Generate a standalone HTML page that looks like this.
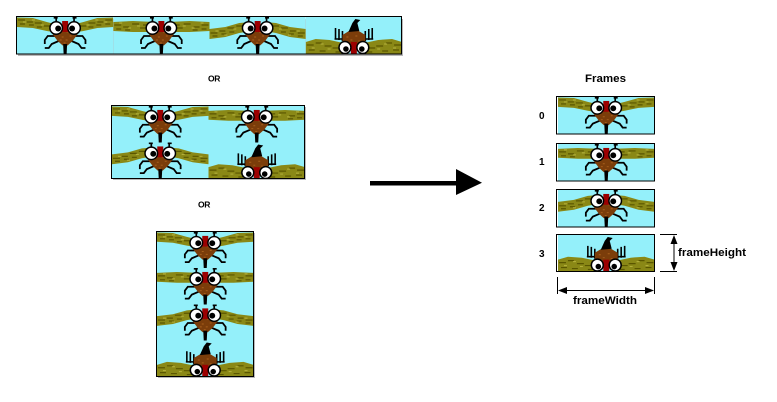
<!DOCTYPE html>
<html>
<head>
<meta charset="utf-8">
<style>
html,body{margin:0;padding:0;background:#fff;}
svg{display:block;}
text{font-family:"Liberation Sans",Arial,sans-serif;font-weight:bold;fill:#000;}
</style>
</head>
<body>
<svg width="777" height="402" viewBox="0 0 777 402" xmlns="http://www.w3.org/2000/svg">
<defs>
  <g id="head">
    <!-- antennae -->
    <path d="M37,0.8h4M39.5,0.5v6M56,0.8h4M57.5,0.5v6" stroke="#000" stroke-width="1.7" fill="none"/>
    <!-- legs -->
    <path d="M40,19H31L28,23V27M42,24L35,27L32,31H28M57,19H66L69,23V27M55,24L62,27L65,31H69" stroke="#000" stroke-width="1.8" fill="none"/>
    <!-- body -->
    <polygon points="35,16 48.5,11 62,16 56,24 51,28.5 46,28.5 41,24" fill="#7b3d0a"/>
    <path d="M41,17h2M50,15h2M45,20h2M53,19h2M43,23h2M49,23h2M47,26h2" stroke="#a8601c" stroke-width="1"/>
    <!-- red patch -->
    <rect x="45.5" y="4" width="6" height="11" fill="#9c0000"/>
    <!-- eyes -->
    <circle cx="39.5" cy="11" r="6.3" fill="#fff" stroke="#000" stroke-width="1.5"/>
    <circle cx="41.5" cy="11.5" r="3" fill="#000"/>
    <circle cx="57.5" cy="11" r="6.3" fill="#fff" stroke="#000" stroke-width="1.5"/>
    <circle cx="55.5" cy="11.5" r="3" fill="#000"/>
    <!-- tail -->
    <polygon points="46.5,27 50.5,27 50,37 47,37" fill="#000"/>
  </g>
  <symbol id="f0" viewBox="0 0 97 37" preserveAspectRatio="none">
    <rect width="97" height="37" fill="#94f0fa"/>
    <g id="w0">
      <polygon points="0,0.5 16,1 30,5 42,8 42,16 30,14 16,11 0,10" fill="#8a8816"/>
      <path d="M1,3h7M10,5h6M18,6h7M27,9h6M3,7h5M20,10h5M12,8h5M34,12h5" stroke="#5a5600" stroke-width="1.2"/>
      <path d="M6,5h3M24,8h3M15,3h3" stroke="#b8b440" stroke-width="1"/>
    </g>
    <use href="#w0" transform="translate(97,0) scale(-1,1)"/>
    <use href="#head"/>
  </symbol>
  <symbol id="f1" viewBox="0 0 97 37" preserveAspectRatio="none">
    <rect width="97" height="37" fill="#94f0fa"/>
    <g id="w1">
      <polygon points="0,5 20,4 42,5 42,15 20,15 0,14" fill="#8a8816"/>
      <path d="M1,8h7M10,10h6M19,7h7M27,11h6M3,12h5M30,8h5M12,13h5" stroke="#5a5600" stroke-width="1.2"/>
      <path d="M6,6h3M24,9h3M15,11h3" stroke="#b8b440" stroke-width="1"/>
    </g>
    <use href="#w1" transform="translate(97,0) scale(-1,1)"/>
    <use href="#head"/>
  </symbol>
  <symbol id="f2" viewBox="0 0 97 37" preserveAspectRatio="none">
    <rect width="97" height="37" fill="#94f0fa"/>
    <g id="w2">
      <polygon points="0,12 16,10 30,6 42,5 42,14 30,16 16,20 0,22" fill="#8a8816"/>
      <path d="M1,16h7M10,14h6M18,11h7M27,9h6M3,19h5M20,15h5M12,17h5M34,11h5" stroke="#5a5600" stroke-width="1.2"/>
      <path d="M6,14h3M24,12h3M15,18h3" stroke="#b8b440" stroke-width="1"/>
    </g>
    <use href="#w2" transform="translate(97,0) scale(-1,1)"/>
    <use href="#head"/>
  </symbol>
  <symbol id="f3" viewBox="0 0 97 37" preserveAspectRatio="none">
    <rect width="97" height="37" fill="#94f0fa"/>
    <g id="w3">
      <polygon points="0,25 10,22 24,23 38,26 38,37 0,37" fill="#8a8816"/>
      <path d="M1,28h7M10,26h6M19,29h7M27,31h6M3,33h6M14,34h6M30,35h5" stroke="#5a5600" stroke-width="1.2"/>
      <path d="M6,31h3M22,32h3M15,27h3" stroke="#b8b440" stroke-width="1"/>
    </g>
    <use href="#w3" transform="translate(97,0) scale(-1,1)"/>
    <path d="M30,11V22M33.5,12V23M37,14V24M29,22H38M67,11V22M63.5,12V23M60,14V24M59,22H68" stroke="#000" stroke-width="1.6" fill="none"/>
    <polygon points="37,18 48.5,11 60,18 60,28 37,28" fill="#7b3d0a"/>
    <path d="M41,20h2M50,19h2M45,23h2M53,24h2" stroke="#a8601c" stroke-width="1"/>
    <polygon points="43,15 47,6 50,2 55,3 52,6 54,14" fill="#000"/>
    <rect x="45.5" y="25" width="6" height="12" fill="#9c0000"/>
    <circle cx="39.5" cy="30.5" r="6" fill="#fff" stroke="#000" stroke-width="1.5"/>
    <circle cx="40.5" cy="32" r="2.8" fill="#000"/>
    <circle cx="57.5" cy="30.5" r="6" fill="#fff" stroke="#000" stroke-width="1.5"/>
    <circle cx="56.5" cy="32" r="2.8" fill="#000"/>
  </symbol>
</defs>

<rect width="777" height="402" fill="#fff"/>

<!-- Top strip -->
<rect x="18" y="19" width="385" height="37" fill="#b8b8b8"/>
<use href="#f0" x="17" y="17" width="96.25" height="37"/>
<use href="#f1" x="113.25" y="17" width="96.25" height="37"/>
<use href="#f2" x="209.5" y="17" width="96.25" height="37"/>
<use href="#f3" x="305.75" y="17" width="96.25" height="37"/>
<rect x="16.5" y="16.5" width="385" height="37.5" fill="none" stroke="#000" stroke-width="1"/>

<text x="208" y="81.5" font-size="8.5" letter-spacing="-0.3">OR</text>

<!-- Grid 2x2 -->
<rect x="113" y="107" width="193" height="73" fill="#b8b8b8"/>
<use href="#f0" x="112" y="106" width="96.5" height="36.5"/>
<use href="#f1" x="208.5" y="106" width="96.5" height="36.5"/>
<use href="#f2" x="112" y="142.5" width="96.5" height="36.5"/>
<use href="#f3" x="208.5" y="142.5" width="96.5" height="36.5"/>
<rect x="111.5" y="105.5" width="193" height="73" fill="none" stroke="#000" stroke-width="1"/>

<text x="198" y="207.5" font-size="8.5" letter-spacing="-0.3">OR</text>

<!-- Vertical strip -->
<rect x="158" y="233" width="97" height="145" fill="#b8b8b8"/>
<use href="#f0" x="157" y="232" width="96.5" height="36"/>
<use href="#f1" x="157" y="268" width="96.5" height="36.5"/>
<use href="#f2" x="157" y="304.5" width="96.5" height="36"/>
<use href="#f3" x="157" y="340.5" width="96.5" height="36"/>
<rect x="156.5" y="231.5" width="97" height="145" fill="none" stroke="#000" stroke-width="1"/>

<!-- Arrow -->
<rect x="370" y="181" width="88" height="4.5" fill="#000"/>
<polygon points="456,169 482,182.7 456,195" fill="#000"/>

<!-- Frames -->
<text x="585" y="82" font-size="11" textLength="41" lengthAdjust="spacingAndGlyphs">Frames</text>

<text x="539" y="119" font-size="10">0</text>
<text x="539" y="165" font-size="10">1</text>
<text x="539" y="211" font-size="10">2</text>
<text x="539" y="257" font-size="10">3</text>

<use href="#f0" x="558" y="97" width="96.5" height="36.5"/>
<rect x="556.5" y="96.5" width="98" height="37.5" fill="none" stroke="#000"/>
<use href="#f1" x="558" y="144" width="96.5" height="36.5"/>
<rect x="556.5" y="143.5" width="98" height="37.5" fill="none" stroke="#000"/>
<use href="#f2" x="558" y="190" width="96.5" height="36.5"/>
<rect x="556.5" y="189.5" width="98" height="37.5" fill="none" stroke="#000"/>
<use href="#f3" x="558" y="235" width="96.5" height="36.5"/>
<rect x="556.5" y="234.5" width="98" height="37" fill="none" stroke="#000"/>

<!-- frameHeight dimension -->
<path d="M660,234.5H677M660,271.5H677M674,240V266" stroke="#000" stroke-width="1" fill="none"/>
<polygon points="674,235 670.5,244 677.5,244" fill="#000"/>
<polygon points="674,271 670.5,262 677.5,262" fill="#000"/>
<text x="678" y="256" font-size="11" textLength="68" lengthAdjust="spacingAndGlyphs">frameHeight</text>

<!-- frameWidth dimension -->
<path d="M557.5,277V294M654.5,277V294M562,290.5H650" stroke="#000" stroke-width="1" fill="none"/>
<polygon points="558,290.5 567,287 567,294" fill="#000"/>
<polygon points="654,290.5 645,287 645,294" fill="#000"/>
<text x="573" y="304" font-size="11" textLength="64" lengthAdjust="spacingAndGlyphs">frameWidth</text>
</svg>
</body>
</html>
